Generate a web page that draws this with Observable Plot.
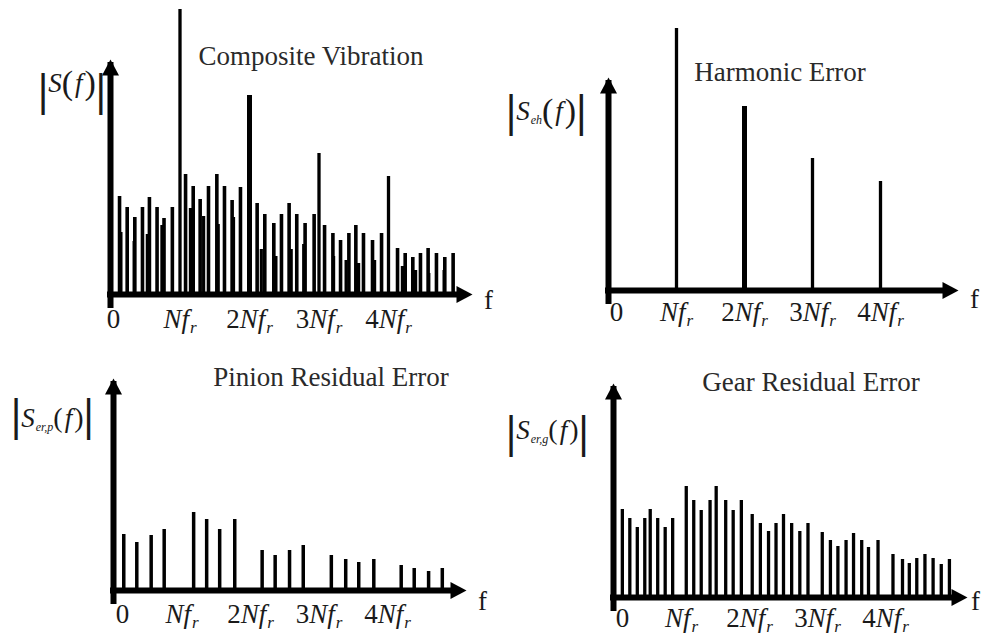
<!DOCTYPE html>
<html><head><meta charset="utf-8">
<script src="https://cdn.jsdelivr.net/npm/d3@7"></script>
<script src="https://cdn.jsdelivr.net/npm/@observablehq/plot@0.6"></script>
<style>
html,body{margin:0;padding:0;background:#fff;}
#fig{position:relative;width:981px;height:636px;overflow:hidden;font-family:"Liberation Serif","Times New Roman",serif;color:#1a1a1a;}
#fig svg{position:absolute;left:0;top:0;font-family:"Liberation Serif","Times New Roman",serif;}
#fig svg text{font-family:"Liberation Serif","Times New Roman",serif;}
.title{position:absolute;font-size:27px;line-height:27px;white-space:nowrap;transform:translateX(-50%);color:#2a2a2a;}
.ylab{position:absolute;display:flex;align-items:center;height:46px;white-space:nowrap;color:#1a1a1a;}
.vb{font-size:46px;line-height:46px;font-weight:bold;display:inline-block;}
.inner{display:inline-flex;align-items:center;position:relative;}
.S{font-style:italic;font-size:27px;line-height:30px;}
.sub{font-style:italic;font-size:12px;line-height:12px;position:relative;top:9px;margin-left:1px;}
.pa{font-size:34px;line-height:36px;}
.ff{font-style:italic;font-size:27px;line-height:30px;margin:0 2px;}
</style></head>
<body>
<div id="fig"></div>
<script>
// ---------- data (amplitudes in arbitrary units, frequencies in multiples of N·f_r) ----------
const tickValues = [0, 1, 2, 3, 4];
const tickLabels = ["0", "Nf_r", "2Nf_r", "3Nf_r", "4Nf_r"];
const harmonicOrders = [1, 2, 3, 4];

// Composite Vibration
const compHarmonicAmp = [285, 199, 141, 118];
const compGearF = [0.13,0.24,0.35,0.46,0.56,0.67,0.77,0.89, 1.08,1.19,1.29,1.41,1.53,1.64,1.75,1.87,
                   2.11,2.22,2.35,2.46,2.57,2.68,2.80,2.93, 3.08,3.20,3.31,3.43,3.53,3.64,3.77,3.90,
                   4.13,4.24,4.35,4.46,4.57,4.69,4.81,4.93];
const compGearAmp = [98,87,77,87,97,87,76,87, 120,108,95,108,120,108,94,107,
                     91,80,71,80,91,80,71,80, 69,61,54,61,69,61,54,61,
                     46,41,37,41,46,41,37,41];
const compPinionF = [0.15,0.34,0.53,0.74, 1.15,1.34,1.55,1.77, 2.17,2.38,2.60,2.78,
                     3.21,3.39,3.57,3.80, 4.20,4.39,4.58,4.80];
const compPinionAmp = [62,53,60,69, 86,78,70,77, 45,38,45,50, 38,34,31,34, 28,24,21,24];

// Harmonic Error
const harmonicAmp = [262, 184, 132, 109];

// Pinion Residual Error
const pinionF = [0.15,0.34,0.55,0.74, 1.17,1.36,1.55,1.77, 2.17,2.36,2.57,2.77,
                 3.18,3.39,3.58,3.80, 4.20,4.39,4.60,4.80];
const pinionAmp = [56,48,55,61, 78,71,61,71, 40,35,40,45, 35,31,28,31, 25,22,19,22];

// Gear Residual Error
const gearF = [0.13,0.24,0.35,0.46,0.54,0.65,0.76,0.87, 1.07,1.18,1.29,1.42,1.51,1.65,1.76,1.88,
               2.04,2.16,2.28,2.39,2.50,2.62,2.74,2.86, 3.07,3.19,3.30,3.42,3.53,3.65,3.75,3.89,
               4.11,4.25,4.35,4.46,4.58,4.70,4.82,4.94];
const gearAmp = [88,79,70,79,88,79,70,79, 111,97,87,97,111,97,87,97,
                 83,74,66,74,83,74,66,74, 65,57,51,57,64,57,50,57,
                 43,38,34,39,43,39,33,38];

// ---------- layout ----------
const W = 981, H = 636;
const serif = '"Liberation Serif","Times New Roman",serif';
const fig = document.getElementById("fig");
const zipF = (f, a) => f.map((x, i) => ({f: x, a: a[i]}));

const arrowUp = {draw(ctx){ ctx.moveTo(0,0); ctx.lineTo(-8.5,16); ctx.lineTo(8.5,16); ctx.closePath(); }};
const arrowRight = {draw(ctx){ ctx.moveTo(0,0); ctx.lineTo(-16,-8.5); ctx.lineTo(-16,8.5); ctx.closePath(); }};

function bars(data, sw) {
  return Plot.ruleX(data, {x: "f", y1: 0, y2: "a", stroke: "black", strokeWidth: sw});
}

function panel(p) {
  const xEnd = (p.tipX - p.origin) / p.unit;
  const yEnd = p.base - p.tipY;
  const svg = Plot.plot({
    width: W, height: H,
    marginLeft: p.origin, marginRight: W - p.tipX, marginTop: p.tipY, marginBottom: H - p.base,
    x: {domain: [0, xEnd]},
    y: {domain: [0, yEnd], axis: null},
    style: {background: "transparent", overflow: "visible", color: "#1a1a1a"},
    marks: [
      ...p.marks,
      Plot.ruleX([0], {y1: 0, y2: yEnd, stroke: "black", strokeWidth: 6, insetTop: 14, insetBottom: -3}),
      Plot.ruleY([0], {x1: 0, x2: xEnd, stroke: "black", strokeWidth: 6, insetRight: 14, insetLeft: -3}),
      Plot.dot([0], {x: 0, y: yEnd, symbol: arrowUp, fill: "black", stroke: "none"}),
      Plot.dot([0], {x: xEnd, y: 0, symbol: arrowRight, fill: "black", stroke: "none"}),
      Plot.axisX(tickValues, {tickSize: 0, tickPadding: p.tickPad, label: null, fontSize: 27, fontFamily: serif,
        fill: "#1a1a1a", tickFormat: d => tickLabels[tickValues.indexOf(d)]}),
      Plot.text(["f"], {x: xEnd, y: 0, text: d => d, dx: p.fDx, dy: p.fDy, fontSize: 27, fontFamily: serif, fill: "#1a1a1a"})
    ]
  });
  // italic N f and subscript r in tick labels
  const NS = "http://www.w3.org/2000/svg";
  svg.querySelectorAll('g[aria-label="x-axis tick label"] text').forEach(t => {
    const s = t.textContent;
    if (s === "0") { t.setAttribute("dx", p.zeroDx); return; }
    const m = s.match(/^(\d?)Nf_r$/);
    if (!m) return;
    t.textContent = "";
    const add = (txt, attrs) => { const ts = document.createElementNS(NS, "tspan"); ts.textContent = txt;
      for (const k in attrs) ts.setAttribute(k, attrs[k]); t.appendChild(ts); return ts; };
    if (m[1]) add(m[1], {});
    add("N", {"font-style": "italic"});
    add("f", {"font-style": "italic"});
    add("r", {"font-style": "italic", "font-size": "17", dy: "5", dx: "1"});
  });
  fig.appendChild(svg);
}

// Composite Vibration
panel({origin: 110, unit: 69.5, base: 294, tipY: 59, tipX: 472, tickPad: 14, fDx: 16, fDy: 6, zeroDx: 3,
  marks: [
    bars(zipF(compPinionF, compPinionAmp), 3.2),
    bars(zipF(compGearF, compGearAmp), 3.6),
    Plot.ruleX(zipF(harmonicOrders, compHarmonicAmp), {x: "f", y1: 0, y2: "a", stroke: "black",
      strokeWidth: d => d.f === 2 ? 5 : 3.3})
  ]});
// Harmonic Error
panel({origin: 608, unit: 68, base: 290, tipY: 77, tipX: 958, tickPad: 11, fDx: 16, fDy: 9, zeroDx: 8,
  marks: [
    Plot.ruleX(zipF(harmonicOrders, harmonicAmp), {x: "f", y1: 0, y2: "a", stroke: "black",
      strokeWidth: d => d.f === 2 ? 5 : 3.3})
  ]});
// Pinion Residual Error
panel({origin: 113, unit: 68.5, base: 590, tipY: 378, tipX: 466, tickPad: 13, fDx: 16, fDy: 11, zeroDx: 9,
  marks: [ bars(zipF(pinionF, pinionAmp), 3.5) ]});
// Gear Residual Error
panel({origin: 613, unit: 68, base: 597, tipY: 383, tipX: 967, tickPad: 10, fDx: 8, fDy: 4, zeroDx: 9,
  marks: [ bars(zipF(gearF, gearAmp), 3.3) ]});

// ---------- titles and y labels ----------
const titles = [
  {text: "Composite Vibration", x: 311, top: 43},
  {text: "Harmonic Error", x: 780, top: 59},
  {text: "Pinion Residual Error", x: 331, top: 364},
  {text: "Gear Residual Error", x: 811, top: 369}
];
titles.forEach(t => {
  const d = document.createElement("div");
  d.className = "title"; d.textContent = t.text;
  d.style.left = t.x + "px"; d.style.top = t.top + "px";
  fig.appendChild(d);
});
const ylabels = [
  {sub: "", left: 38, top: 67, raise: 7, pa: 34},
  {sub: "eh", left: 506, top: 88, raise: 0, pa: 34},
  {sub: "er,p", left: 11, top: 392, raise: -3, pa: 28},
  {sub: "er,g", left: 506, top: 409, raise: 2, pa: 28}
];
ylabels.forEach(l => {
  const d = document.createElement("div");
  d.className = "ylab"; d.style.left = l.left + "px"; d.style.top = l.top + "px";
  d.innerHTML = `<span class="vb">|</span><span class="inner" style="top:${-l.raise}px"><span class="S">S</span>` +
    (l.sub ? `<span class="sub">${l.sub}</span>` : "") +
    `<span class="pa" style="font-size:${l.pa}px">(</span><span class="ff">f</span><span class="pa" style="font-size:${l.pa}px">)</span></span><span class="vb">|</span>`;
  fig.appendChild(d);
});
</script>
</body></html>
